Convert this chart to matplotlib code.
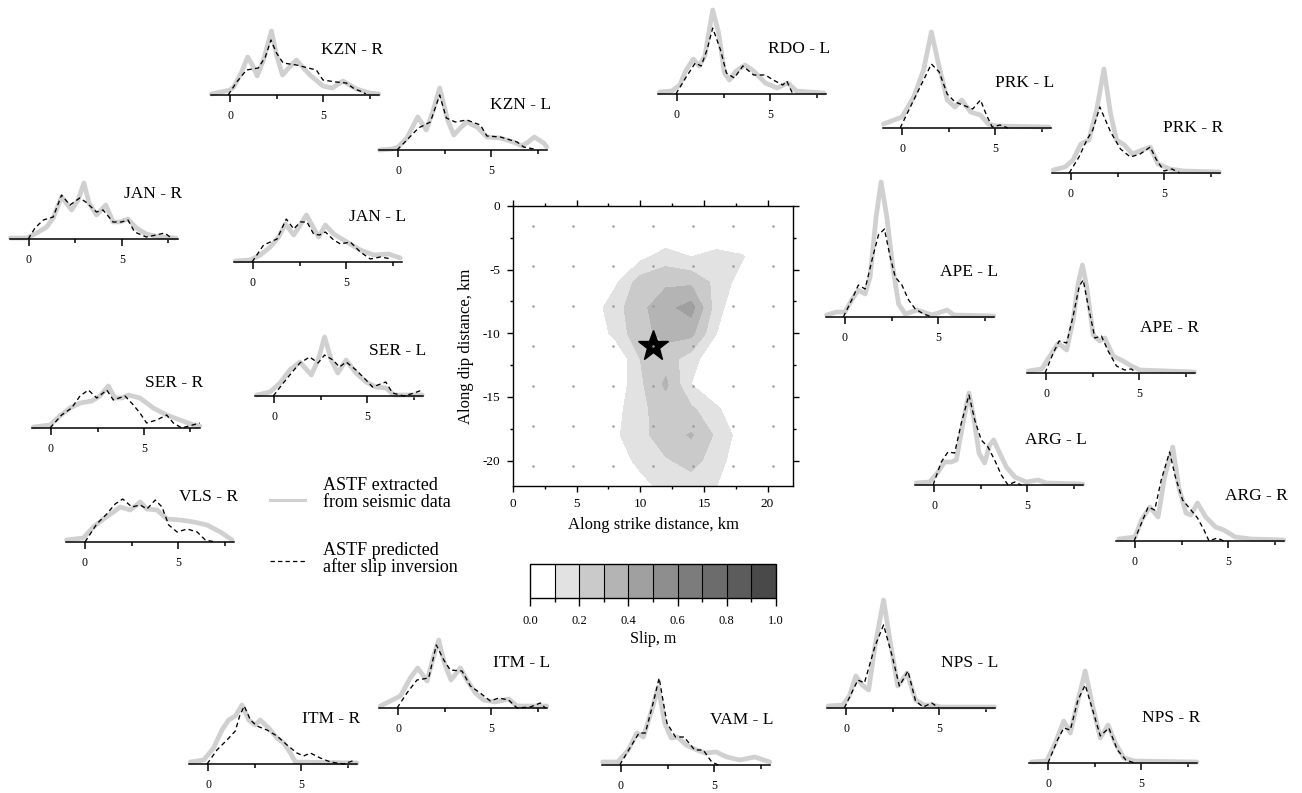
import matplotlib
matplotlib.use("Agg")
import matplotlib.pyplot as plt
import numpy as np
from matplotlib.lines import Line2D

plt.rcParams['font.family'] = 'Liberation Serif'
plt.rcParams['axes.unicode_minus'] = False

# ---- slip model (m) on a 2 km grid, rows from 0 km down to -22 km ----
slip_x = np.arange(0, 23, 2)
slip_y = np.arange(0, -23, -2)
slip = np.array([
    # x: 0    2    4    6    8     10    12    14    16    18    20   22
    [0.0, 0.0, 0.0, 0.0, 0.0,  0.0,  0.0,  0.0,  0.0,  0.0,  0.0, 0.0],
    [0.0, 0.0, 0.0, 0.0, 0.0,  0.0,  0.0,  0.0,  0.0,  0.0,  0.0, 0.0],
    [0.0, 0.0, 0.0, 0.0, 0.0,  0.07, 0.15, 0.10, 0.14, 0.11, 0.0, 0.0],
    [0.0, 0.0, 0.0, 0.0, 0.08, 0.25, 0.28, 0.28, 0.17, 0.05, 0.0, 0.0],
    [0.0, 0.0, 0.0, 0.03, 0.16, 0.27, 0.37, 0.44, 0.14, 0.0, 0.0, 0.0],
    [0.0, 0.0, 0.0, 0.0, 0.13, 0.27, 0.33, 0.33, 0.10, 0.0,  0.0, 0.0],
    [0.0, 0.0, 0.0, 0.0, 0.0,  0.20, 0.25, 0.15, 0.0,  0.0,  0.0, 0.0],
    [0.0, 0.0, 0.0, 0.0, 0.02, 0.18, 0.32, 0.10, 0.0,  0.0,  0.0, 0.0],
    [0.0, 0.0, 0.0, 0.0, 0.06, 0.18, 0.24, 0.22, 0.12, 0.0,  0.0, 0.0],
    [0.0, 0.0, 0.0, 0.0, 0.08, 0.17, 0.25, 0.31, 0.18, 0.05, 0.0, 0.0],
    [0.0, 0.0, 0.0, 0.0, 0.04, 0.13, 0.19, 0.23, 0.16, 0.0,  0.0, 0.0],
    [0.0, 0.0, 0.0, 0.0, 0.0,  0.06, 0.14, 0.16, 0.10, 0.0,  0.0, 0.0],
])
slip_levels = np.arange(0, 1.01, 0.1)
slip_colors = ['#ffffff', '#e2e2e2', '#cacaca', '#b4b4b4', '#a0a0a0',
               '#8e8e8e', '#7c7c7c', '#6c6c6c', '#5c5c5c', '#494949']
hypo = (11.0, -11.0)
n_sub = 7          # subfaults along strike and dip
fault_len = 22.0   # km

# ---- apparent source time functions: (time s, amplitude) ----
kzn_r_obs = [(-1, 1), (-0.5, 3), (0, 5), (0.2, 8), (0.6, 22), (0.95, 38), (1.2, 30), (1.46, 19), (1.8, 35),
             (2.23, 64), (2.5, 40), (2.82, 20), (3.2, 28), (3.57, 35), (3.9, 28), (4.3, 20), (5, 9), (5.5, 7),
             (6.07, 14), (6.8, 6), (7.5, 2), (8, 1)]
kzn_r_pre = [(-0.1, 0), (0.36, 13), (0.89, 25), (1.52, 27), (1.9, 38), (2.2, 55), (2.5, 42), (2.86, 32),
             (3.57, 30), (4.64, 25), (5, 15), (5.7, 13), (6.25, 12), (6.7, 6), (7.14, 3), (7.3, 1)]
kzn_l_obs = [(-1, 0), (-0.3, 1), (0, 3), (0.48, 12), (1.06, 33), (1.52, 20), (1.9, 40), (2.24, 62), (2.67, 30),
             (3.0, 15), (3.35, 22), (3.7, 28), (4.25, 23), (4.78, 13), (5.5, 12), (6.2, 8), (6.67, 4), (7.0, 8),
             (7.33, 13), (7.83, 7), (8, 3)]
kzn_l_pre = [(-0.05, 0), (0.48, 10), (1.1, 22), (1.74, 28), (2.24, 55), (2.6, 32), (3.08, 28), (3.7, 30),
             (4.43, 25), (4.78, 14), (5.5, 13), (6.4, 8), (6.76, 3), (7.3, 1)]
rdo_l_obs = [(-0.94, 2), (-0.27, 3), (0.15, 9), (0.46, 23), (0.88, 35), (1.19, 28), (1.5, 38), (1.92, 84),
             (2.24, 61), (2.55, 21), (2.82, 14), (3.18, 23), (3.66, 29), (4.12, 23), (4.75, 11), (5.38, 6),
             (5.96, 11), (6.42, 3), (7.9, 1)]
rdo_l_pre = [(-0.06, 0), (0.46, 16), (0.98, 31), (1.3, 28), (1.61, 44), (1.92, 66), (2.34, 44), (2.66, 21),
             (3.08, 16), (3.54, 28), (4.12, 19), (4.75, 19), (5.17, 14), (5.69, 9), (5.9, 13), (6.2, 1)]
prk_l_obs = [(-1, 4), (-0.42, 8), (0, 11), (0.63, 31), (1.16, 58), (1.58, 96), (2.0, 61), (2.43, 28), (2.85, 21),
             (3.21, 28), (3.69, 16), (4.22, 13), (4.64, 4), (5.06, 2), (7.9, 1)]
prk_l_pre = [(-0.1, 0), (0.63, 28), (1.16, 48), (1.58, 64), (2.0, 56), (2.43, 34), (2.85, 26), (3.27, 23),
             (3.8, 19), (4.22, 28), (4.54, 13), (4.85, 1), (5.27, 3), (5.7, 0)]
prk_r_obs = [(-0.96, 3), (-0.32, 6), (0.11, 13), (0.53, 29), (0.96, 33), (1.38, 63), (1.77, 104), (2.13, 59),
             (2.45, 33), (2.87, 28), (3.3, 19), (3.83, 23), (4.26, 26), (4.68, 9), (5.32, 4), (6.06, 2), (7.98, 1)]
prk_r_pre = [(-0.1, 0), (0.43, 16), (0.85, 33), (1.17, 43), (1.55, 66), (2.13, 41), (2.66, 24), (3.19, 16),
             (3.72, 19), (4.26, 26), (4.57, 14), (5.0, 2), (5.43, 4), (5.85, 0)]
jan_r_obs = [(-1, 1), (-0.12, 1), (0.41, 6), (0.95, 12), (1.3, 21), (1.75, 42), (2.29, 29), (2.64, 39), (2.95, 56),
             (3.23, 36), (3.63, 24), (4.13, 34), (4.52, 17), (4.88, 17), (5.32, 20), (5.77, 11), (6.3, 5),
             (7.02, 2), (7.9, 1)]
jan_r_pre = [(-0.04, 0), (0.32, 11), (0.77, 19), (1.3, 22), (1.75, 44), (2.2, 34), (2.73, 41), (3.05, 37),
             (3.63, 27), (3.98, 29), (4.52, 17), (4.96, 17), (5.32, 19), (5.68, 7), (6.3, 2), (6.84, 4),
             (7.29, 6), (7.73, 0)]
jan_l_obs = [(-0.95, 1), (-0.14, 2), (0.39, 7), (0.93, 15), (1.38, 25), (1.74, 38), (2.19, 27), (2.54, 37),
             (2.87, 47), (3.17, 37), (3.53, 25), (3.89, 37), (4.34, 28), (5.05, 20), (5.77, 12), (6.49, 7),
             (7.29, 8), (7.92, 4)]
jan_l_pre = [(-0.05, 0), (0.57, 17), (1.29, 23), (1.79, 43), (2.19, 33), (2.54, 40), (2.9, 40), (3.26, 28),
             (3.58, 27), (3.89, 30), (4.34, 22), (4.7, 18), (5.23, 20), (5.77, 10), (6.31, 3), (6.85, 5), (7.47, 3)]
ser_l_obs = [(-0.93, 1), (-0.21, 4), (0.32, 13), (0.85, 26), (1.39, 34), (2.01, 21), (2.37, 36), (2.72, 59),
             (3.08, 36), (3.43, 23), (3.88, 36), (4.41, 23), (4.95, 14), (5.48, 9), (6.01, 8), (6.46, 1), (7.97, 1)]
ser_l_pre = [(-0.04, 0), (0.5, 13), (0.94, 23), (1.39, 33), (1.92, 39), (2.37, 33), (2.72, 41), (3.17, 36),
             (3.52, 29), (3.88, 34), (4.41, 26), (4.95, 16), (5.3, 9), (6.01, 14), (6.37, 3), (6.99, 0),
             (7.53, 3), (7.97, 6)]
ser_r_obs = [(-0.95, 1), (-0.05, 3), (0.48, 12), (1.02, 20), (1.56, 25), (2.19, 27), (2.63, 32), (3.08, 42),
             (3.44, 30), (3.8, 30), (4.16, 33), (4.78, 30), (5.5, 20), (6.22, 13), (6.94, 8), (7.65, 3), (8, 2)]
ser_r_pre = [(-0.05, 0), (0.57, 13), (1.11, 20), (1.56, 32), (2.01, 38), (2.46, 30), (3.0, 38), (3.35, 28),
             (3.98, 32), (4.43, 23), (4.78, 15), (5.14, 5), (5.68, 8), (6.22, 13), (6.58, 5), (7.03, 0), (8, 5)]
vls_r_obs = [(-0.99, 2), (-0.09, 4), (0.45, 15), (0.99, 23), (1.53, 30), (1.89, 35), (2.43, 32), (2.97, 40),
             (3.33, 33), (3.87, 32), (4.41, 23), (5.13, 22), (5.85, 20), (6.56, 17), (7.28, 10), (7.91, 2)]
vls_r_pre = [(0, 0), (0.63, 18), (1.17, 28), (1.62, 38), (2.03, 43), (2.52, 35), (2.97, 37), (3.33, 33),
             (3.78, 42), (4.14, 35), (4.5, 17), (4.95, 10), (5.49, 13), (6.03, 10), (6.47, 2), (7.01, 0)]
ape_l_obs = [(-0.99, 2), (-0.45, 5), (0, 5), (0.36, 17), (0.72, 27), (1.08, 23), (1.35, 40), (1.67, 100),
             (1.94, 135), (2.25, 100), (2.57, 50), (2.88, 13), (3.24, 3), (3.87, 7), (4.68, 2), (5.49, 7),
             (5.85, 2), (8, 1)]
ape_l_pre = [(-0.09, 0), (0.36, 17), (0.72, 32), (1.08, 28), (1.49, 60), (1.8, 82), (2.12, 88), (2.43, 60),
             (2.7, 40), (3.06, 32), (3.42, 17), (3.78, 8), (4.23, 3), (4.68, 0)]
ape_r_obs = [(-0.95, 2), (-0.23, 4), (0.21, 17), (0.66, 30), (1.11, 23), (1.46, 53), (1.73, 90), (1.96, 108),
             (2.18, 87), (2.54, 38), (2.89, 32), (3.16, 35), (3.61, 17), (4.14, 12), (4.59, 7), (5.04, 3), (7.98, 1)]
ape_r_pre = [(-0.05, 0), (0.39, 20), (0.71, 32), (1.11, 30), (1.46, 57), (1.79, 87), (2.0, 93), (2.27, 67),
             (2.63, 35), (2.98, 37), (3.34, 22), (3.79, 7), (4.23, 3), (4.59, 4), (4.86, 0)]
arg_l_obs = [(-0.95, 2), (-0.23, 3), (0.22, 13), (0.57, 23), (0.93, 23), (1.2, 25), (1.56, 62), (1.88, 92),
             (2.13, 68), (2.42, 32), (2.72, 22), (2.99, 40), (3.21, 45), (3.53, 32), (3.89, 18), (4.34, 8),
             (4.96, 3), (5.59, 5), (6.04, 2), (8, 1)]
arg_l_pre = [(-0.05, 0), (0.39, 23), (0.75, 33), (1.11, 32), (1.47, 62), (1.88, 90), (2.19, 65), (2.54, 45),
             (2.9, 38), (3.26, 25), (3.62, 10), (3.98, 0), (4.34, 3), (4.7, 0)]
arg_r_obs = [(-0.88, 2), (0, 4), (0.35, 21), (0.8, 34), (1.24, 24), (1.59, 64), (2.03, 94), (2.35, 54),
             (2.74, 28), (3.0, 26), (3.36, 38), (3.8, 24), (4.33, 14), (4.77, 11), (5.39, 4), (6.27, 2), (8, 1)]
arg_r_pre = [(-0.05, 0), (0.35, 18), (0.71, 34), (1.06, 31), (1.41, 61), (1.86, 89), (2.17, 64), (2.56, 41),
             (2.92, 33), (3.36, 23), (3.71, 11), (3.98, 0), (4.42, 3), (4.77, 0)]
itm_r_obs = [(-0.95, 2), (-0.23, 4), (0.3, 16), (0.75, 34), (1.11, 44), (1.47, 48), (1.83, 59), (2.19, 44),
             (2.54, 39), (2.81, 44), (3.26, 36), (3.71, 26), (4.07, 21), (4.43, 11), (4.7, 2), (8, 1)]
itm_r_pre = [(-0.05, 0), (0.48, 14), (1.02, 24), (1.47, 33), (1.7, 48), (1.95, 58), (2.28, 44), (2.63, 38),
             (3.17, 34), (3.71, 28), (4.25, 19), (4.78, 11), (5.14, 8), (5.5, 11), (6.04, 6), (6.58, 2),
             (7.29, 0), (7.92, 4)]
itm_l_obs = [(-0.95, 2), (-0.41, 7), (0.13, 12), (0.66, 30), (1.06, 40), (1.56, 27), (1.92, 52), (2.19, 68),
             (2.49, 45), (2.85, 28), (3.35, 40), (3.71, 28), (4.16, 15), (4.6, 8), (5.23, 6), (5.95, 9),
             (6.4, 2), (8, 2)]
itm_l_pre = [(-0.05, 0), (0.48, 15), (1.02, 28), (1.65, 30), (2.06, 63), (2.46, 48), (2.81, 38), (3.44, 37),
             (3.89, 22), (4.42, 15), (4.96, 7), (5.41, 10), (5.95, 8), (6.4, 0), (7.11, 1), (7.65, 5), (7.92, 0)]
vam_l_obs = [(-0.99, 3), (-0.18, 3), (0.39, 15), (0.85, 32), (1.2, 28), (1.66, 55), (2.0, 78), (2.35, 42),
             (2.7, 27), (3.04, 28), (3.5, 20), (4.08, 15), (4.54, 12), (5.12, 13), (5.69, 8), (6.38, 5),
             (7.19, 8), (8, 3)]
vam_l_pre = [(-0.07, 0), (0.51, 18), (0.97, 32), (1.31, 32), (1.77, 65), (2.05, 87), (2.47, 42), (2.93, 28),
             (3.39, 28), (3.96, 15), (4.42, 15), (4.88, 3), (5.23, 0)]
nps_l_obs = [(-0.96, 2), (-0.16, 3), (0.18, 12), (0.53, 32), (0.87, 23), (1.22, 18), (1.56, 62), (2.02, 108),
             (2.36, 68), (2.78, 22), (3.28, 35), (3.74, 8), (4.2, 3), (4.66, 3), (5.11, 1), (7.98, 1)]
nps_l_pre = [(-0.09, 0), (0.3, 15), (0.64, 28), (0.99, 25), (1.56, 62), (2.02, 83), (2.48, 52), (2.87, 22),
             (3.33, 37), (3.74, 7), (4.15, 1), (4.61, 5), (5, 0)]
nps_r_obs = [(-0.88, 1), (-0.07, 2), (0.39, 20), (0.85, 42), (1.2, 30), (1.54, 57), (2.0, 92), (2.4, 57),
             (2.81, 25), (3.23, 38), (3.62, 20), (4.08, 5), (4.65, 2), (8, 1)]
nps_r_pre = [(0, 0), (0.51, 23), (0.85, 35), (1.2, 33), (1.61, 63), (2.0, 78), (2.4, 53), (2.81, 27),
             (3.27, 35), (3.73, 13), (4.19, 3), (4.65, 0)]

stations = [
    ('KZN - R', kzn_r_obs, kzn_r_pre), ('KZN - L', kzn_l_obs, kzn_l_pre),
    ('RDO - L', rdo_l_obs, rdo_l_pre), ('PRK - L', prk_l_obs, prk_l_pre),
    ('PRK - R', prk_r_obs, prk_r_pre), ('JAN - R', jan_r_obs, jan_r_pre),
    ('JAN - L', jan_l_obs, jan_l_pre), ('SER - L', ser_l_obs, ser_l_pre),
    ('SER - R', ser_r_obs, ser_r_pre), ('VLS - R', vls_r_obs, vls_r_pre),
    ('APE - L', ape_l_obs, ape_l_pre), ('APE - R', ape_r_obs, ape_r_pre),
    ('ARG - L', arg_l_obs, arg_l_pre), ('ARG - R', arg_r_obs, arg_r_pre),
    ('ITM - R', itm_r_obs, itm_r_pre), ('ITM - L', itm_l_obs, itm_l_pre),
    ('VAM - L', vam_l_obs, vam_l_pre), ('NPS - L', nps_l_obs, nps_l_pre),
    ('NPS - R', nps_r_obs, nps_r_pre),
]

# layout: pixel x of t=0 and pixel y of the baseline for each panel
panel_pos = {
    'KZN - R': (230, 95), 'KZN - L': (398, 150), 'RDO - L': (677, 94), 'PRK - L': (902, 128),
    'PRK - R': (1071, 173), 'JAN - R': (29, 239), 'JAN - L': (253, 262), 'SER - L': (274, 396),
    'SER - R': (51, 428), 'VLS - R': (85, 542), 'APE - L': (845, 317), 'APE - R': (1046, 373),
    'ARG - L': (934, 485), 'ARG - R': (1135, 541), 'ITM - R': (208, 764), 'ITM - L': (398, 708),
    'VAM - L': (621, 765), 'NPS - L': (846, 708), 'NPS - R': (1048, 763),
}

W, H = 1302, 793
fig = plt.figure(figsize=(W / 100, H / 100), dpi=100)

OBS_C = '#d0d0d0'
DASH = (0, (3.5, 2.5))
DX = 18.6   # px per second
PH = 140    # panel height, px (amplitude units are px too)


def px_axes(left, top, width, height):
    return fig.add_axes([left / W, 1 - (top + height) / H, width / W, height / H])


def stf_panel(name, obs, pre):
    x0, base = panel_pos[name]
    ax = px_axes(x0 - DX, base - PH, 9 * DX, PH)
    ax.set_xlim(-1, 8)
    ax.set_ylim(0, PH)
    ax.patch.set_visible(False)
    for s in ['top', 'left', 'right']:
        ax.spines[s].set_visible(False)
    ax.spines['bottom'].set_linewidth(1.1)
    t, a = zip(*obs)
    ax.plot(t, a, color=OBS_C, lw=3.4, solid_joinstyle='round', solid_capstyle='round', clip_on=False)
    t, a = zip(*pre)
    ax.plot(t, a, color='k', lw=0.95, ls=DASH, clip_on=False)
    ax.set_xticks([0, 5])
    ax.set_xticks([2.5, 7.5], minor=True)
    ax.set_yticks([])
    ax.tick_params(axis='x', which='major', length=5, width=1.1, labelsize=8.5, pad=6)
    ax.tick_params(axis='x', which='minor', length=3, width=1.1)
    ax.text(8.2, 45, name, ha='right', va='center', fontsize=12.5)


for name, obs, pre in stations:
    stf_panel(name, obs, pre)

# ---- slip map ----
ax = px_axes(513, 206, 280, 280)
cf = ax.contourf(slip_x, slip_y, slip, levels=slip_levels, colors=slip_colors)
ax.plot(*hypo, marker='*', ms=23, color='k', mec='k')
centers = (np.arange(n_sub) + 0.5) * fault_len / n_sub
gx, gy = np.meshgrid(centers, -centers)
ax.plot(gx.ravel(), gy.ravel(), ls='none', marker='o', ms=1.8, color='#999999', mec='none')
ax.set_xlim(0, 22)
ax.set_ylim(-22, 0)
ax.set_xticks(range(0, 21, 5))
ax.set_yticks(range(0, -21, -5))
ax.set_xticks(np.arange(2.5, 22, 5), minor=True)
ax.set_yticks(-np.arange(2.5, 22, 5), minor=True)
ax.tick_params(which='both', direction='out', top=True, right=True, labelsize=9.5, width=1)
ax.tick_params(which='major', length=4, pad=5)
ax.tick_params(which='minor', length=2.5)
for s in ax.spines.values():
    s.set_linewidth(1.0)
ax.set_xlabel('Along strike distance, km', fontsize=12, labelpad=5)
ax.set_ylabel('Along dip distance, km', fontsize=12, labelpad=6)

# ---- colour bar ----
cax = px_axes(530, 564, 246, 34)
cb = fig.colorbar(cf, cax=cax, orientation='horizontal', drawedges=True)
cb.outline.set_linewidth(1.0)
cb.dividers.set_linewidth(0.8)
cb.set_ticks(np.arange(0, 1.01, 0.2))
cb.ax.set_xticklabels(['%.1f' % v for v in np.arange(0, 1.01, 0.2)])
cb.ax.set_xticks(np.arange(0.1, 1.0, 0.2), minor=True)
cb.ax.tick_params(which='major', length=6, width=1, labelsize=9, pad=6)
cb.ax.tick_params(which='minor', length=3, width=1)
cb.set_label('Slip, m', fontsize=11.5, labelpad=3)

# ---- legend ----
fig.add_artist(Line2D([270 / W, 305 / W], [1 - 500 / H] * 2, color=OBS_C, lw=2.2))
fig.add_artist(Line2D([270 / W, 305 / W], [1 - 561 / H] * 2, color='k', lw=0.9, ls=DASH))
fig.text(323 / W, 1 - 494 / H, 'ASTF extracted\nfrom seismic data', ha='left', va='center',
         fontsize=13, linespacing=1.0)
fig.text(323 / W, 1 - 559 / H, 'ASTF predicted\nafter slip inversion', ha='left', va='center',
         fontsize=13, linespacing=1.0)

fig.savefig('out.png', dpi=100)
